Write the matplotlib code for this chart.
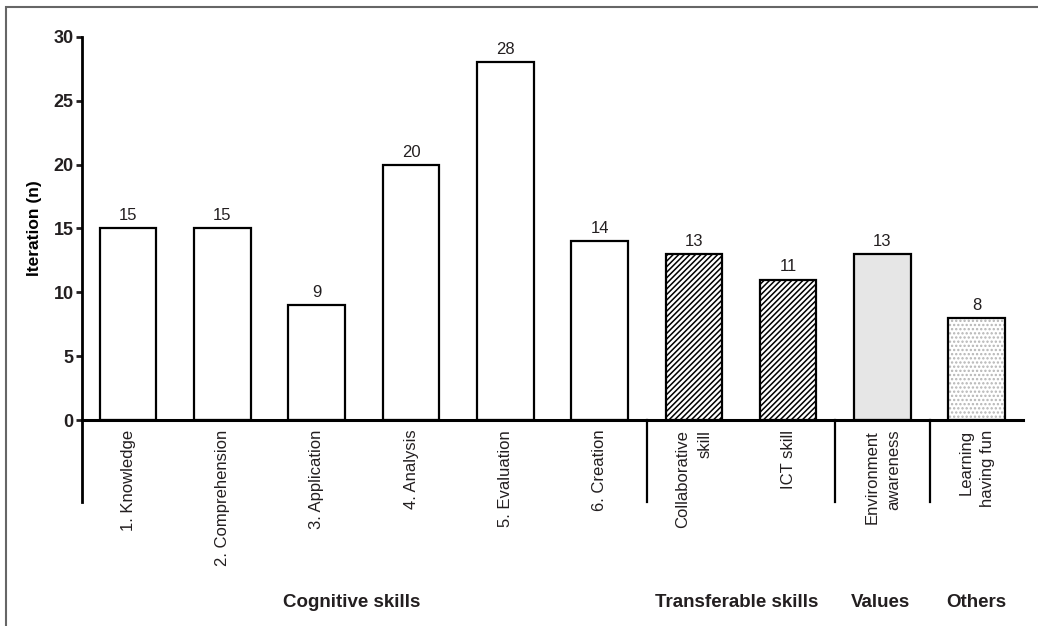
import numpy as np
import matplotlib
matplotlib.use("Agg")
from matplotlib import pyplot as plt
from matplotlib.patches import Rectangle

plt.rcParams['font.family'] = ['Liberation Sans', 'DejaVu Sans']
plt.rcParams['hatch.linewidth'] = 1.1
plt.rcParams['text.color'] = '#231f20'
plt.rcParams['xtick.color'] = '#231f20'
plt.rcParams['ytick.color'] = '#231f20'

categories = ['1. Knowledge', '2. Comprehension', '3. Application', '4. Analysis',
              '5. Evaluation', '6. Creation', 'Collaborative\nskill', 'ICT skill',
              'Environment\nawareness', 'Learning\nhaving fun']
values = [15, 15, 9, 20, 28, 14, 13, 11, 13, 8]
groups = ['Cognitive skills', 'Transferable skills', 'Values', 'Others']
group_centers = [2.37, 6.45, 7.98, 9.0]
separators = [5.5, 7.5, 8.5]

fills = ['white'] * 6 + ['white', 'white', '#e6e6e6', 'white']
hatches = [None] * 6 + ['//////', '//////', None, None]

fig = plt.figure(figsize=(10.38, 6.26), dpi=100)
ax = fig.add_axes([0.079, 0.329, 0.9065, 0.612])

x = np.arange(len(values))
# light dotted fill for the last bar, drawn underneath with a grey hatch
ax.bar(x[-1:], values[-1:], width=0.6, color='white', edgecolor='#b5b5b5',
       linewidth=0, hatch='....')
bars = ax.bar(x, values, width=0.6, color=fills, edgecolor='black', linewidth=1.6)
bars[-1].set_facecolor('none')
for b, h in zip(bars, hatches):
    if h:
        b.set_hatch(h)

for xi, v in zip(x, values):
    ax.text(xi, v + 0.4, str(v), ha='center', va='bottom', fontsize=12)

ax.set_xlim(-0.49, 9.49)
ax.set_ylim(0, 30)
ax.set_yticks(np.arange(0, 31, 5))
ax.tick_params(axis='y', labelsize=13, width=2, length=4, pad=2)
for lab in ax.get_yticklabels():
    lab.set_fontweight('bold')

ax.set_xticks(x)
ax.set_xticklabels(categories, rotation=90, fontsize=12, va='top', ha='center',
                   multialignment='right', linespacing=1.55)
ax.tick_params(axis='x', length=0, pad=7)

ax.spines['top'].set_visible(False)
ax.spines['right'].set_visible(False)
ax.spines['left'].set_linewidth(2)
ax.spines['bottom'].set_linewidth(2.2)

ax.set_ylabel('Iteration (n)', fontsize=12.5, fontweight='bold', labelpad=8)

# separators below the axis
trans = ax.get_xaxis_transform()
ax.plot([-0.49, -0.49], [0, -0.214], color='black', lw=2, transform=trans, clip_on=False)
for s in separators:
    ax.plot([s, s], [0, -0.214], color='black', lw=1.6, transform=trans, clip_on=False)

for g, c in zip(groups, group_centers):
    ax.text(c, -0.475, g, ha='center', va='center', fontsize=13.5, fontweight='bold',
            transform=trans)

# frame around the figure (cut off at right and bottom)
fig.patches.append(Rectangle((5.5 / 1038, -0.1), 1.2, 1.1 - 6.5 / 626, transform=fig.transFigure,
                             fill=False, edgecolor='#666666', linewidth=1.5))

fig.savefig('out.png', dpi=100)
